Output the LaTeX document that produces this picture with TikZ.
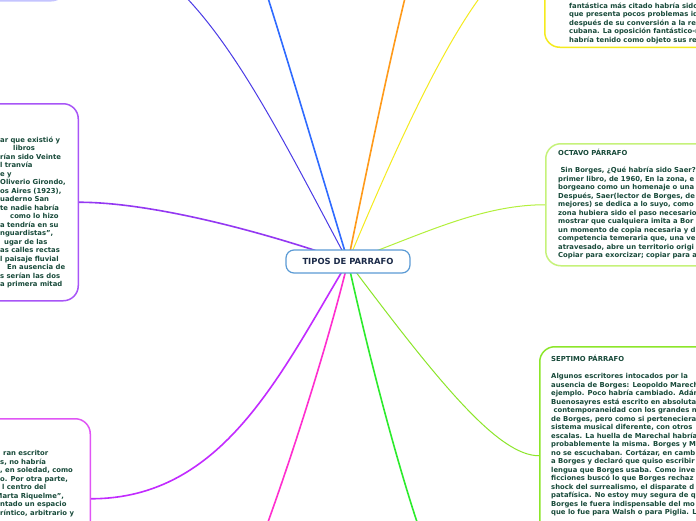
\documentclass[tikz,border=0pt]{standalone}
\usepackage{fontspec}
\setmainfont{DejaVu Sans}
\usepackage{xcolor}
\definecolor{tinta}{HTML}{184A3A}
\definecolor{marino}{HTML}{1B2A48}
\definecolor{celeste}{HTML}{5B9BD5}
\definecolor{indigo}{HTML}{4B3BE6}
\definecolor{lavanda}{HTML}{C4C4FF}
\definecolor{azul}{HTML}{2F6BFF}
\definecolor{naranja}{HTML}{FF9A1A}
\definecolor{amarillo}{HTML}{F5EB1E}
\definecolor{lima}{HTML}{B3F03C}
\definecolor{limaclaro}{HTML}{C6F27A}
\definecolor{verdelima}{HTML}{8CE62A}
\definecolor{verde}{HTML}{2CEB2C}
\definecolor{rosa}{HTML}{FF2ECF}
\definecolor{purpura}{HTML}{C22BFF}
\definecolor{orquidea}{HTML}{E055F5}
\definecolor{violeta}{HTML}{9438F2}
\definecolor{violetaclaro}{HTML}{A855F7}
\usepackage{tikz}
\pgfdeclarelayer{fondo}
\pgfsetlayers{fondo,main}

\begin{document}
\begin{tikzpicture}[x=1pt,y=-1pt,
  caja/.style={draw,fill=white,rounded corners=15pt,line width=1.5pt,inner sep=0pt,minimum width=200pt},
  texto/.style={anchor=north west,align=left,inner sep=0pt,text=tinta,font=\fontsize{6.85}{8.5}\selectfont\bfseries},
  rama/.style={line width=1.6pt},
  ramafina/.style={line width=1pt}
]
\useasboundingbox (0,0) rectangle (696,520);
% nodo central
\node[draw=celeste,fill=white,line width=1.2pt,rounded corners=8pt,minimum width=124pt,minimum height=23pt,
  font=\fontsize{8.4}{9}\selectfont\bfseries,text=marino] (raiz) at (348,261.5) {TIPOS DE PARRAFO};

% cajas (en parte fuera de la hoja)
\node[caja,draw=lavanda,minimum height=125pt,anchor=south east] (cajaLavanda) at (67,1.5) {};
\node[caja,draw=violetaclaro,minimum height=197pt,anchor=north east] (cajaVioleta) at (79,103) {};
\node[caja,draw=orquidea,minimum height=160pt,anchor=north east] (cajaMagenta) at (91,418) {};
\node[caja,draw=amarillo,minimum height=200pt,anchor=south west] (cajaAmarilla) at (544,48) {};
\node[caja,draw=limaclaro,minimum height=122pt,anchor=north west] (cajaOctavo) at (545,143) {};
\node[caja,draw=verdelima,minimum height=218pt,anchor=north west] (cajaSeptimo) at (539,346) {};

\coordinate (finAzul) at (268,-2);
\coordinate (finNaranja) at (405,-2);
\coordinate (finVerde) at (417,522);
\coordinate (finRosa) at (268,522);

% textos
\node[texto] (textoVioleta) at (0,136.5) {ar que existió y\\
\hspace*{13pt}libros\\
rían sido Veinte\\
l tranvía\\
e y\\
Oliverio Girondo,\\
os Aires (1923),\\
uaderno San\\
te nadie habría\\
\hspace*{10pt}como lo hizo\\
a tendría en su\\
nguardistas”,\\
\hspace*{4pt}ugar de las\\
as calles rectas\\
l paisaje fluvial\\
\hspace*{7pt}En ausencia de\\
s serían las dos\\
a primera mitad};

\node[texto] (textoMagenta) at (0,450.5) {\hspace*{3pt}ran escritor\\
s, no habría\\
, en soledad, como\\
o. Por otra parte,\\
\hspace*{2pt}l centro del\\
\hspace*{-4.5pt}Marta Riquelme”,\\
ntado un espacio\\
ríntico, arbitrario y};

\node[texto] (textoAmarillo) at (569,2.5) {fantástica más citado habría sido C\\
que presenta pocos problemas ideo\\
después de su conversión a la revo\\
cubana. La oposición fantástico-rea\\
habría tenido como objeto sus rela};

\node[texto] (textoOctavo) at (558,149.2) {OCTAVO PÁRRAFO\\[8.5pt]
\hspace*{2.3pt}Sin Borges, ¿Qué habría sido Saer?\\
primer libro, de 1960, En la zona, e\\
borgeano como un homenaje o una\\
Después, Saer(lector de Borges, de\\
mejores) se dedica a lo suyo, como\\
zona hubiera sido el paso necesario\\
mostrar que cualquiera imita a Bor\\
un momento de copia necesaria y d\\
competencia temeraria que, una ve\\
atravesado, abre un territorio origi\\
Copiar para exorcizar; copiar para a};

\node[texto] (textoSeptimo) at (551,355) {SEPTIMO PÁRRAFO\\[8.5pt]
Algunos escritores intocados por la\\
ausencia de Borges: Leopoldo Marech\\
ejemplo. Poco habría cambiado. Adán\\
Buenosayres está escrito en absoluta\\
\hspace*{2.3pt}contemporaneidad con los grandes n\\
de Borges, pero como si perteneciera\\
sistema musical diferente, con otros\\
escalas. La huella de Marechal habría\\
probablemente la misma. Borges y M\\
no se escuchaban. Cortázar, en camb\\
a Borges y declaró que quiso escribir\\
lengua que Borges usaba. Como inve\\
ficciones buscó lo que Borges rechaz\\
shock del surrealismo, el disparate d\\
patafísica. No estoy muy segura de q\\
Borges le fuera indispensable del mo\\
que lo fue para Walsh o para Piglia. L};

% ramas
\begin{pgfonlayer}{fondo}
\fill[white] (0,0) rectangle (696,520);
\draw[ramafina,indigo] (raiz.center) .. controls +(-94,-176) and +(118,0) .. (cajaLavanda.east);
\draw[rama,azul] (raiz.center) .. controls +(-23,-76) and +(24,76) .. (finAzul);
\draw[rama,naranja] (raiz.center) .. controls +(16,-78) and +(-19,78) .. (finNaranja);
\draw[ramafina,amarillo] (raiz.center) .. controls +(58,-138) and +(-60,0) .. (cajaAmarilla.west);
\draw[ramafina,lima] (raiz.center) .. controls +(72,-26) and +(-65,0) .. (cajaOctavo.west);
\draw[ramafina,verdelima] (raiz.center) .. controls +(90,120) and +(-41,0) .. (cajaSeptimo.west);
\draw[rama,verde] (raiz.center) .. controls +(17,78) and +(-25,-76) .. (finVerde);
\draw[rama,rosa] (raiz.center) .. controls +(-19,78) and +(27,-75) .. (finRosa);
\draw[rama,purpura] (raiz.center) .. controls +(-68,113) and +(132,0) .. (cajaMagenta.east);
\draw[rama,violeta] (raiz.center) .. controls +(-88,-31) and +(71,0) .. (cajaVioleta.east);
\end{pgfonlayer}
\end{tikzpicture}
\end{document}
